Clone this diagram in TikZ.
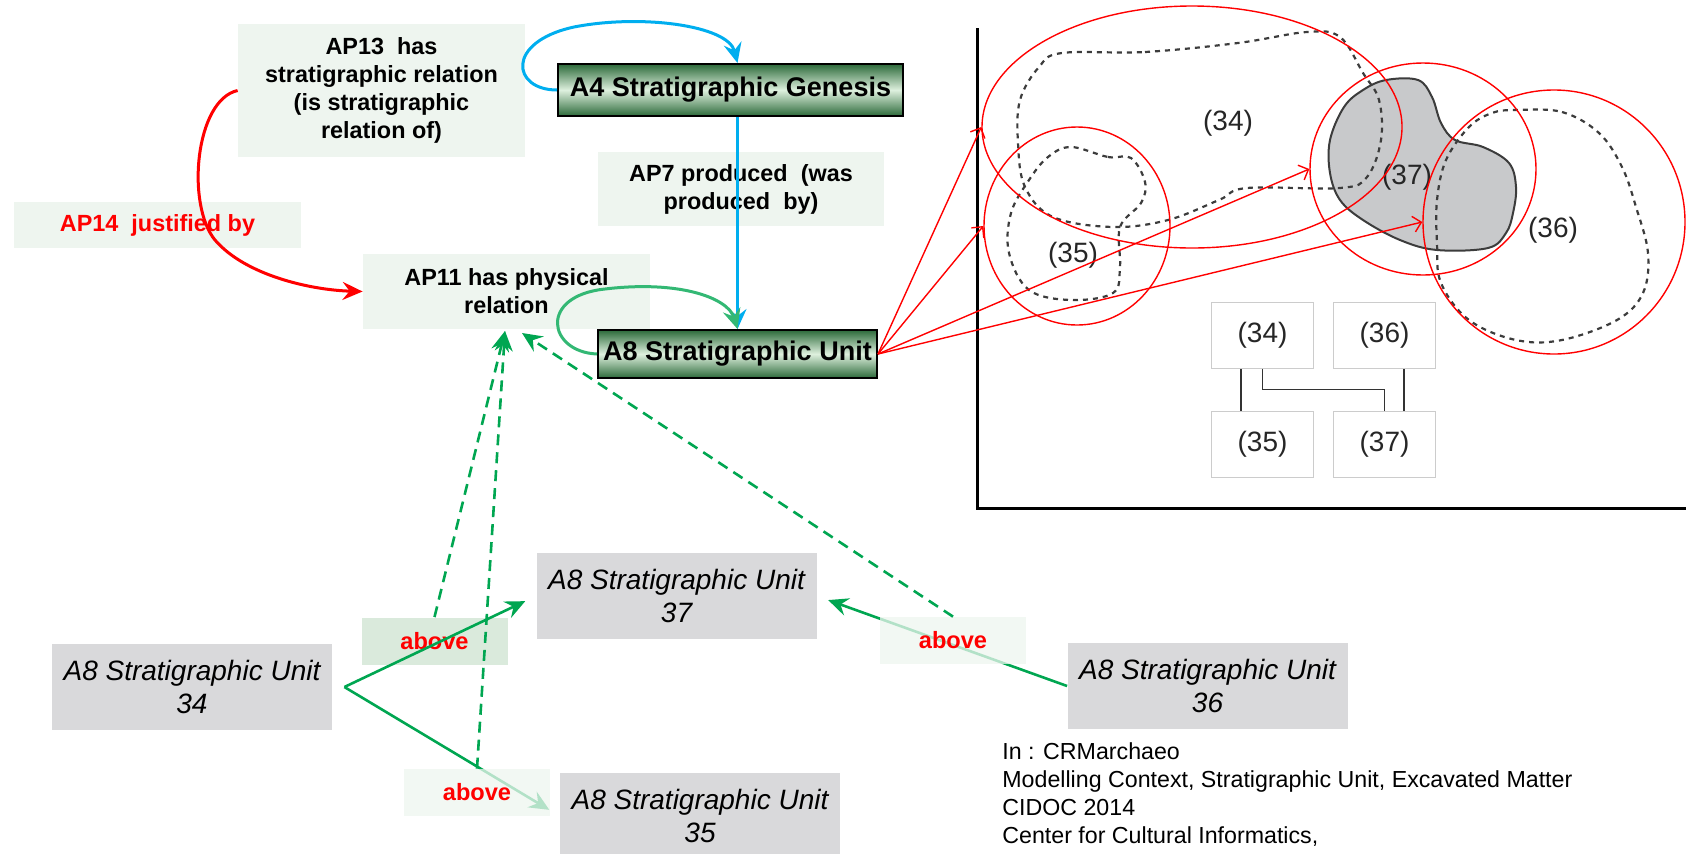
\documentclass[tikz,border=0pt]{standalone}
\usepackage{fontspec}
\setmainfont{Liberation Sans}
\usetikzlibrary{arrows.meta,shapes.geometric}
\definecolor{relfill}{RGB}{238,245,239}
\definecolor{abovefill}{RGB}{218,234,220}
\definecolor{clsdark}{RGB}{44,106,58}
\definecolor{clslight}{RGB}{222,240,222}
\definecolor{unitgray}{RGB}{217,217,219}
\definecolor{cyanline}{RGB}{0,174,239}
\definecolor{greenline}{RGB}{0,166,81}
\definecolor{blobgray}{RGB}{200,201,203}
\definecolor{blobline}{RGB}{60,60,60}
\begin{document}
\begin{tikzpicture}[x=0.5pt,y=-0.5pt,
	relbox/.style={fill=relfill,inner sep=0pt,align=center,font=\bfseries\fontsize{11.7}{14}\selectfont},
	classbox/.style={draw=black,line width=1pt,top color=clsdark,bottom color=clsdark,middle color=clslight,inner sep=0pt,font=\bfseries\fontsize{13.5}{16}\selectfont},
	unitbox/.style={fill=unitgray,inner sep=0pt,align=center,minimum width=140pt,minimum height=43pt,font=\itshape\fontsize{14}{16.5}\selectfont},
	abovebox/.style={fill=relfill,fill opacity=0.75,text opacity=1,text=red,inner sep=0pt,minimum width=73pt,minimum height=23.5pt,font=\bfseries\fontsize{11.8}{14}\selectfont},
	smallbox/.style={draw=black!20,line width=0.7pt,inner sep=0pt,minimum width=51pt,minimum height=33pt,text=black!85,font=\fontsize{14}{16}\selectfont},
	ring/.style={ellipse,draw=red,line width=0.7pt,inner sep=0pt},
	trace/.style={draw=blobline,line width=1.1pt,dash pattern=on 2.5pt off 2.5pt},
	tip/.style={-{Stealth[length=10pt,width=9pt,inset=3.5pt]}},
	flow/.style={tip,draw=greenline,line width=1.3pt,shorten >=6pt},
	dashline/.style={tip,draw=greenline,line width=1.3pt,dash pattern=on 5.5pt off 3.5pt}]
	\clip (0,0) rectangle (1686,853);
	% left part
	\node[relbox,minimum width=143.5pt,minimum height=66.5pt] (ap13) at (381.5,90.5) {AP13\ \ has\\stratigraphic relation\\(is stratigraphic\\relation of)};
	\node[classbox,minimum width=172.5pt,minimum height=26pt] (a4) at (730.5,90) {A4 Stratigraphic Genesis};
	\node[relbox,minimum width=143pt,minimum height=37pt] (ap7) at (741,189) {AP7 produced\ \ (was\\produced\ \ by)};
	\node[relbox,minimum width=143.5pt,minimum height=23pt,text=red] (ap14) at (157.5,225) {AP14\ \ justified by};
	\node[relbox,minimum width=143.5pt,minimum height=37.5pt] (ap11) at (506.5,291.5) {AP11 has physical\\relation};
	\node[classbox,minimum width=139.5pt,minimum height=24pt] (a8) at (737.5,354) {A8 Stratigraphic Unit};
	\draw[tip,draw=cyanline,line width=1.5pt] (a4.west) .. controls (512,90) and (505,42) .. (574,27) .. controls (640,14) and (728,25) .. (a8.north |- a4.north);
	\draw[tip,draw=cyanline,line width=1.5pt] (a8.north |- a4.south) -- (a8.north);
	\draw[tip,draw=red,line width=1.5pt] (ap13.west) .. controls (195,100) and (186,205) .. (215,240) .. controls (245,275) and (310,290) .. (ap11.west);
	\draw[tip,draw=greenline!80,line width=1.5pt] (a8.west) .. controls (548,352) and (538,296) .. (605,289) .. controls (680,280) and (728,298) .. (a8.north);
	% bottom part
	\node[unitbox] (su34) at (192,687) {A8 Stratigraphic Unit\\34};
	\node[unitbox] (su37) at (676.5,596) {A8 Stratigraphic Unit\\37};
	\node[unitbox] (su36) at (1207.5,686) {A8 Stratigraphic Unit\\36};
	\node[unitbox] (su35) at (700,816) {A8 Stratigraphic Unit\\35};
	\node[abovebox,fill=abovefill,fill opacity=1] (ab1) at (434.5,641) {above};
	\draw[flow] ([xshift=6pt]su34.east) -- (su37.west);
	\draw[flow] ([xshift=6pt]su34.east) -- (su35.west);
	\draw[flow] (su36.west) -- (su37.east);
	\node[abovebox] (ab2) at (953,640.5) {above};
	\node[abovebox] (ab3) at (477,792.5) {above};
	\coordinate (t1) at (505,331);
	\coordinate (t2) at (522,333);
	\draw[dashline] (ab1.north) -- (t1);
	\draw[dashline] (ab3.north) -- (t1);
	\draw[dashline] (ab2.north) -- (t2);
	\node[anchor=north west,inner sep=0pt,align=left,font=\fontsize{11.6}{14}\selectfont] (src) at (1002,742) {In : CRMarchaeo\\Modelling Context, Stratigraphic Unit, Excavated Matter\\CIDOC 2014\\Center for Cultural Informatics,};
	% right part
	\draw[line width=1.5pt] (977,28) -- (977,508) -- (1686,508);
	\draw[fill=blobgray,draw=blobline,line width=1pt] plot[smooth cycle,tension=0.6] coordinates {(1386,80) (1418,80) (1432,97) (1441,123) (1455,140) (1483,147) (1509,163) (1516,187) (1513,213) (1506,233) (1488,248) (1437,250) (1400,240) (1363,220) (1340,200) (1330,173) (1330,140) (1344,107) (1363,90)};
	\draw[trace] plot[smooth cycle,tension=0.6] coordinates {(1062,53) (1145,52) (1238,43) (1307,32) (1340,37) (1363,73) (1379,100) (1381,140) (1367,177) (1340,188) (1247,188) (1219,200) (1168,220) (1113,227) (1053,217) (1025,187) (1018,143) (1020,100) (1039,67)};
	\draw[trace] plot[smooth cycle,tension=0.6] coordinates {(1071,147) (1108,157) (1131,158) (1145,182) (1141,203) (1120,227) (1120,267) (1113,293) (1071,300) (1029,290) (1009,253) (1011,213) (1029,180) (1048,157)};
	\draw[trace] plot[smooth cycle,tension=0.6] coordinates {(1516,110) (1562,112) (1599,133) (1622,167) (1636,207) (1648,253) (1643,293) (1617,320) (1562,340) (1516,340) (1469,320) (1441,283) (1437,243) (1437,200) (1446,160) (1469,127) (1492,113)};
	\node[text=black!85,font=\fontsize{14}{16}\selectfont] (l34) at (1228,123) {(34)};
	\node[text=black!85,font=\fontsize{14}{16}\selectfont] (l35) at (1073,255) {(35)};
	\node[text=black!85,font=\fontsize{14}{16}\selectfont] (l37) at (1407,177) {(37)};
	\node[text=black!85,font=\fontsize{14}{16}\selectfont] (l36) at (1553,230) {(36)};
	\node[smallbox] (s34) at (1262.5,335.5) {(34)};
	\node[smallbox] (s36) at (1384.5,335.5) {(36)};
	\node[smallbox] (s35) at (1262.5,444.5) {(35)};
	\node[smallbox] (s37) at (1384.5,444.5) {(37)};
	\draw[black!80,line width=0.7pt] ([xshift=-10.75pt]s34.south) -- ([xshift=-10.75pt]s35.north);
	\draw[black!80,line width=0.7pt] (s34.south) -- ++(0,20) -| (s37.north);
	\draw[black!80,line width=0.7pt] ([xshift=9.75pt]s36.south) -- ([xshift=9.75pt]s37.north);
	\node[ring,minimum width=210pt,minimum height=121pt] (e34) at (1192,127) {};
	\node[ring,minimum width=93pt,minimum height=99pt] (e35) at (1077,226) {};
	\node[ring,minimum width=113pt,minimum height=106pt] (e37) at (1423,169) {};
	\node[ring,minimum width=131pt,minimum height=132pt] (e36) at (1554,222) {};
	\foreach \e in {e34,e35,e37,e36}
		\draw[red,line width=0.7pt,-{Straight Barb[length=4pt,width=8pt]}] (a8.east) -- (\e.west);
\end{tikzpicture}
\end{document}
